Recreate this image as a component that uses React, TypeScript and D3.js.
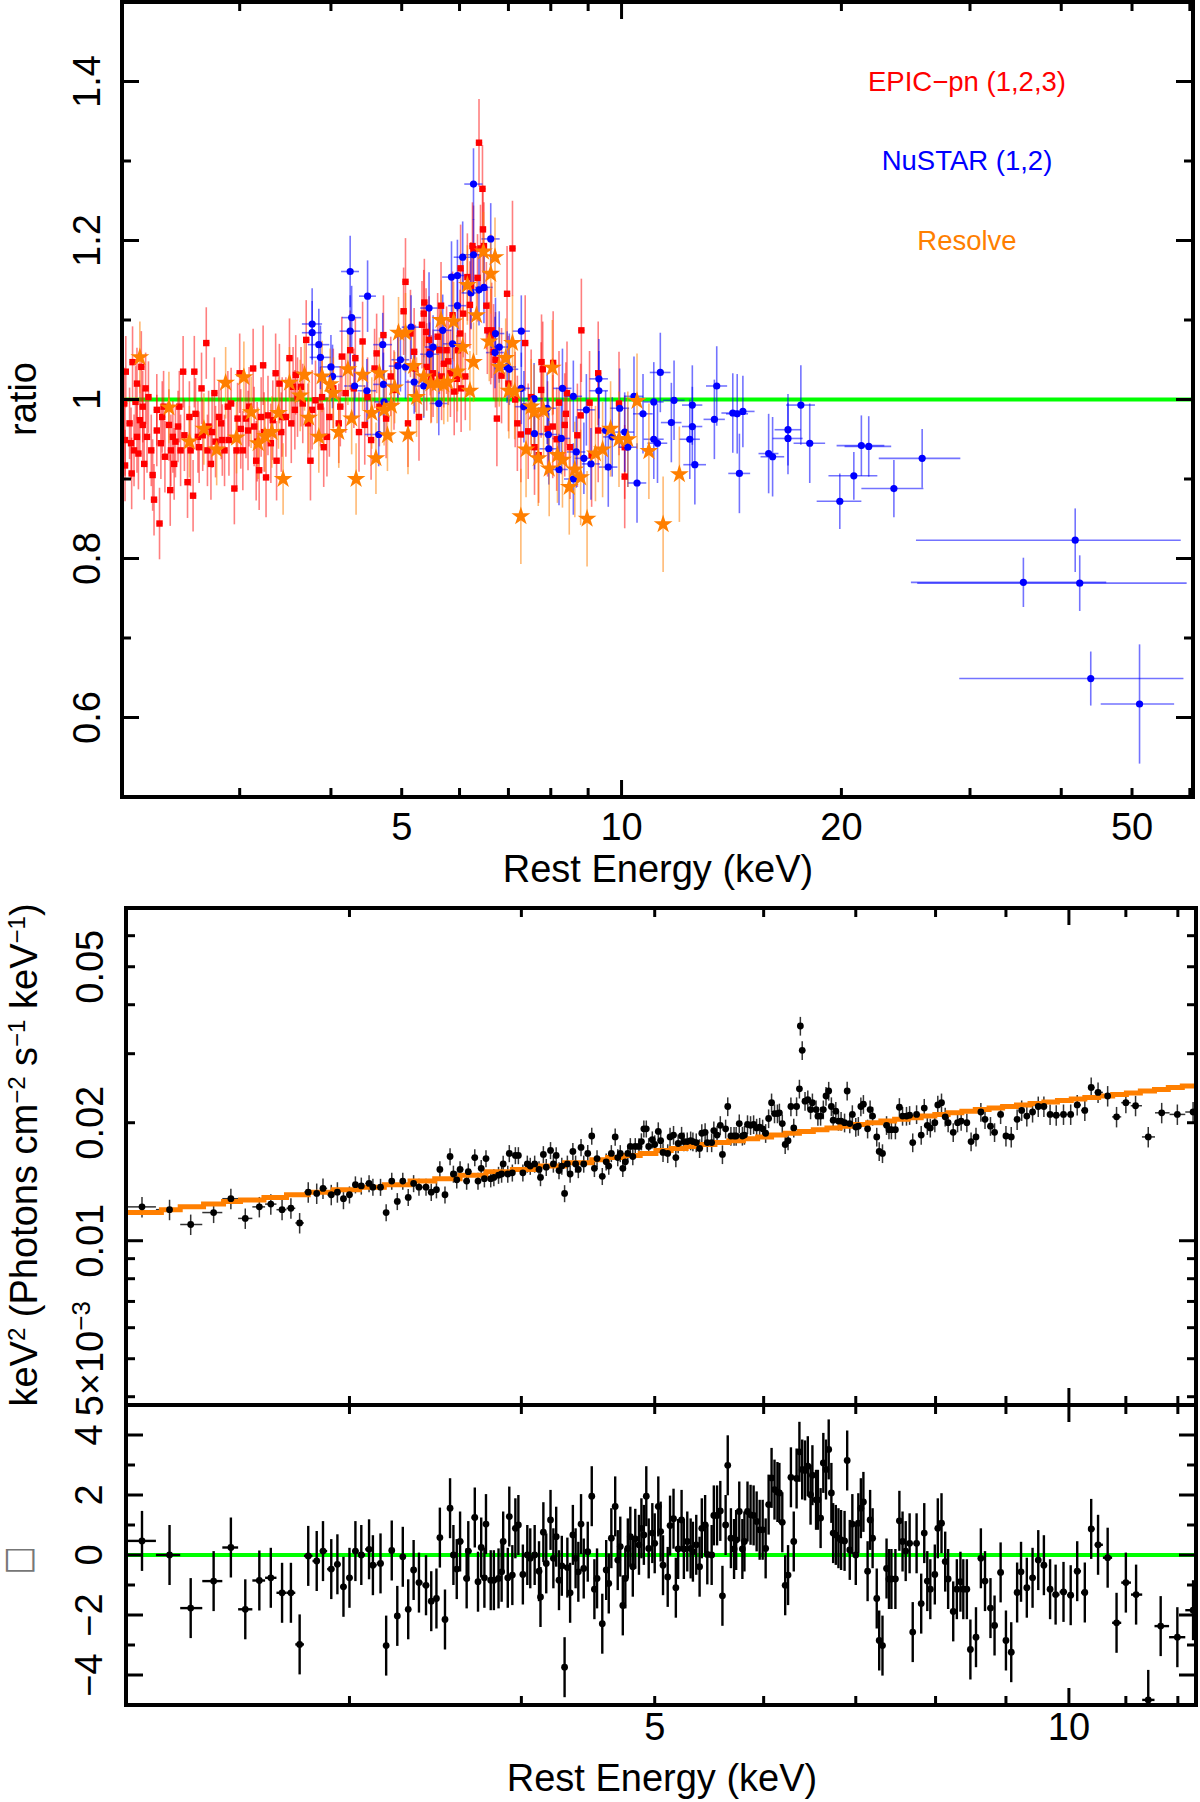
import React from "react";
import * as d3 from "d3";

const W = 1200;
const H = 1802;
const FONT = "'Liberation Sans', Arial, Helvetica, sans-serif";

// ---------- top panel: data / model ratio ----------
// EPIC-pn (1,2,3): [energy keV, ratio]
const epicPn: [number, number][] = [
  [2.085, 0.995], [2.09, 0.949], [2.09, 0.917], [2.095, 1.035], [2.12, 0.97], [2.13, 0.945], [2.134, 0.907],
  [2.14, 1.047], [2.15, 0.936], [2.16, 0.997], [2.17, 1.02], [2.17, 0.953], [2.18, 0.932], [2.19, 0.974],
  [2.2, 1.041], [2.21, 0.968], [2.21, 0.991], [2.22, 0.919], [2.23, 1.014], [2.24, 0.953], [2.25, 1.003],
  [2.27, 0.936], [2.28, 0.905], [2.29, 0.874], [2.31, 0.987], [2.31, 0.961], [2.33, 0.844], [2.34, 0.945],
  [2.35, 0.978], [2.36, 0.991], [2.37, 0.928], [2.4, 0.968], [2.41, 0.886], [2.415, 0.936], [2.43, 0.953],
  [2.44, 0.919], [2.45, 0.947], [2.47, 0.966], [2.48, 0.991], [2.49, 0.936], [2.51, 1.035], [2.52, 0.955],
  [2.545, 0.896], [2.56, 0.978], [2.57, 0.936], [2.59, 0.879], [2.6, 1.035], [2.61, 0.982], [2.63, 0.953],
  [2.64, 0.94], [2.66, 1.014], [2.67, 0.955], [2.7, 1.071], [2.71, 0.936], [2.72, 0.966], [2.74, 0.919],
  [2.75, 0.959], [2.77, 1.008], [2.78, 0.947], [2.81, 0.978], [2.83, 0.97], [2.84, 0.949], [2.86, 0.936],
  [2.89, 0.991], [2.9, 0.949], [2.92, 0.995], [2.95, 0.888], [2.97, 0.936], [2.98, 0.976], [3.0, 1.033],
  [3.01, 0.963], [3.03, 0.936], [3.06, 0.976], [3.08, 0.961], [3.09, 0.991], [3.13, 1.039], [3.14, 0.966],
  [3.16, 0.923], [3.17, 0.947], [3.19, 0.911], [3.21, 0.978], [3.23, 1.043], [3.24, 0.959], [3.26, 0.902],
  [3.28, 0.98], [3.31, 0.945], [3.33, 0.974], [3.36, 1.033], [3.37, 0.923], [3.4, 1.02], [3.42, 0.959],
  [3.43, 0.978], [3.47, 0.978], [3.51, 1.052], [3.53, 0.97], [3.55, 1.016], [3.57, 0.987], [3.58, 1.031],
  [3.6, 1.003], [3.64, 1.016], [3.66, 0.995], [3.7, 1.075], [3.72, 0.97], [3.75, 0.923], [3.77, 0.987],
  [3.81, 0.999], [3.87, 0.991], [3.89, 1.003], [3.91, 0.94], [3.95, 0.953], [3.98, 0.978], [4.03, 1.014],
  [4.1, 0.97], [4.12, 0.991], [4.14, 1.054], [4.19, 1.008], [4.25, 1.062], [4.3, 1.014], [4.32, 1.052],
  [4.37, 0.959], [4.42, 1.073], [4.45, 0.968], [4.49, 1.003], [4.54, 0.949], [4.59, 1.039], [4.62, 1.058],
  [4.66, 0.991], [4.72, 1.081], [4.76, 0.976], [4.83, 1.029], [4.88, 1.012], [4.94, 1.043], [5.03, 1.111],
  [5.06, 1.148], [5.1, 0.97], [5.14, 1.083], [5.2, 1.06], [5.22, 1.039], [5.28, 0.978], [5.33, 1.094],
  [5.36, 1.108], [5.37, 1.122], [5.4, 1.085], [5.41, 1.041], [5.45, 1.075], [5.47, 1.06], [5.49, 1.026],
  [5.52, 1.033], [5.6, 1.079], [5.63, 1.062], [5.66, 1.118], [5.67, 1.029], [5.71, 1.045], [5.76, 1.062],
  [5.79, 1.048], [5.83, 1.033], [5.87, 1.106], [5.9, 1.01], [5.95, 1.026], [5.97, 1.062], [6.01, 1.083],
  [6.02, 1.165], [6.03, 1.014], [6.07, 1.108], [6.11, 1.029], [6.15, 1.154], [6.2, 1.119], [6.22, 1.143],
  [6.25, 1.193], [6.27, 1.189], [6.35, 1.153], [6.38, 1.323], [6.41, 1.19], [6.45, 1.265], [6.46, 1.214],
  [6.48, 1.193], [6.53, 1.118], [6.55, 1.087], [6.62, 1.079], [6.64, 1.087], [6.68, 1.06], [6.72, 1.05],
  [6.75, 0.976], [6.85, 1.03], [6.97, 1.133], [7.0, 1.02], [7.09, 1.19], [7.15, 1.0], [7.2, 0.97],
  [7.28, 0.956], [7.38, 1.071], [7.45, 0.96], [7.52, 1.003], [7.6, 0.94], [7.7, 0.93], [7.76, 1.012],
  [7.77, 1.047], [7.8, 1.038], [7.92, 0.963], [8.05, 0.966], [8.06, 1.046], [8.15, 0.95], [8.21, 0.996],
  [8.36, 0.968], [8.39, 0.982], [8.42, 1.008], [8.5, 0.94], [8.7, 0.955], [8.79, 0.98], [8.81, 1.087],
  [9.04, 0.996], [9.1, 0.93], [9.29, 1.033], [9.29, 0.961], [9.92, 0.995], [10.1, 0.94], [10.1, 0.903],
];
// [upper energy of band, 1-sigma ratio error]
const epicPnErrBands: [number, number][] = [[3.0, 0.045], [5.0, 0.05], [6.6, 0.055], [8.0, 0.06], [99, 0.065]];

// Resolve: [energy keV, ratio]
const resolve: [number, number][] = [
  [2.19, 1.053], [2.4, 0.99], [2.56, 0.947], [2.68, 0.963], [2.79, 0.937], [2.87, 1.021], [2.97, 0.952],
  [3.04, 1.028], [3.11, 0.984], [3.18, 0.945], [3.25, 0.954], [3.32, 0.959], [3.39, 0.983], [3.44, 0.9],
  [3.51, 1.021], [3.63, 1.005], [3.68, 1.031], [3.73, 0.977], [3.85, 0.953], [3.89, 1.029], [3.99, 1.019],
  [4.03, 1.008], [4.1, 0.959], [4.22, 1.038], [4.27, 0.976], [4.33, 0.9], [4.42, 1.031], [4.55, 0.983],
  [4.61, 0.926], [4.66, 1.033], [4.73, 0.987], [4.78, 0.955], [4.84, 0.992], [4.89, 1.015], [4.95, 1.084],
  [5.06, 1.084], [5.1, 0.956], [5.19, 1.042], [5.24, 1.003], [5.36, 1.029], [5.48, 1.02], [5.59, 1.02],
  [5.66, 1.1], [5.71, 1.019], [5.78, 1.022], [5.89, 1.098], [5.96, 1.035], [6.06, 1.066], [6.15, 1.144],
  [6.2, 1.011], [6.27, 1.047], [6.33, 1.106], [6.47, 1.186], [6.59, 1.073], [6.62, 1.158], [6.71, 1.179],
  [6.8, 1.041], [6.94, 1.052], [7.01, 1.011], [7.09, 1.071], [7.14, 1.01], [7.28, 0.853], [7.4, 0.937],
  [7.52, 0.991], [7.59, 0.984], [7.69, 0.926], [7.82, 0.986], [7.96, 0.913], [8.04, 1.04], [8.17, 0.93],
  [8.3, 0.924], [8.48, 0.89], [8.63, 0.912], [8.79, 0.902], [8.97, 0.85], [9.21, 0.932], [9.42, 0.937],
  [9.66, 0.963], [9.92, 0.95], [10.2, 0.95], [10.5, 0.998], [10.9, 0.935], [11.4, 0.843], [12.0, 0.906],
];
const resolveErrBands: [number, number][] = [[5.0, 0.045], [7.0, 0.05], [99, 0.06]];

// NuSTAR (1,2): [energy keV, ratio, ratio error, energy half-width keV]
const nustar: [number, number, number, number][] = [
  [3.77, 1.095, 0.045, 0.12], [3.77, 1.084, 0.04, 0.12], [3.85, 1.069, 0.045, 0.13], [3.87, 1.053, 0.04, 0.13],
  [4.0, 1.041, 0.04, 0.13], [4.02, 1.029, 0.04, 0.13], [4.25, 1.161, 0.045, 0.12], [4.27, 1.103, 0.04, 0.13],
  [4.25, 1.086, 0.045, 0.14], [4.49, 1.13, 0.045, 0.12], [4.31, 1.017, 0.04, 0.14], [4.48, 1.011, 0.04, 0.13],
  [4.71, 1.069, 0.04, 0.14], [4.72, 1.019, 0.04, 0.15], [4.73, 0.997, 0.04, 0.14], [4.65, 0.956, 0.04, 0.2],
  [4.98, 1.05, 0.04, 0.14], [4.94, 1.042, 0.04, 0.14], [5.06, 1.041, 0.04, 0.15], [5.15, 1.091, 0.04, 0.15],
  [5.2, 1.022, 0.04, 0.14], [5.36, 1.017, 0.04, 0.15], [5.45, 1.115, 0.045, 0.15], [5.46, 1.057, 0.04, 0.16],
  [5.52, 1.066, 0.04, 0.15], [5.62, 0.995, 0.04, 0.16], [5.69, 1.087, 0.045, 0.16], [5.87, 1.07, 0.04, 0.17],
  [5.85, 1.154, 0.045, 0.17], [5.96, 1.156, 0.045, 0.17], [5.96, 1.118, 0.04, 0.17], [6.06, 1.179, 0.045, 0.17],
  [6.22, 1.134, 0.045, 0.18], [6.27, 1.182, 0.045, 0.18], [6.27, 1.271, 0.045, 0.18], [6.38, 1.138, 0.045, 0.18],
  [6.48, 1.141, 0.045, 0.18], [6.62, 1.202, 0.045, 0.19], [6.72, 1.083, 0.045, 0.19], [6.71, 1.059, 0.045, 0.19],
  [6.8, 1.066, 0.045, 0.19], [6.97, 1.041, 0.045, 0.2], [7.02, 1.038, 0.045, 0.2], [7.29, 1.086, 0.045, 0.2],
  [7.29, 1.014, 0.045, 0.2], [7.35, 0.991, 0.045, 0.21], [7.59, 1.001, 0.045, 0.21], [7.6, 0.957, 0.045, 0.22],
  [7.91, 0.989, 0.045, 0.22], [7.94, 0.956, 0.045, 0.22], [7.95, 0.938, 0.045, 0.23], [8.21, 0.912, 0.045, 0.23],
  [8.27, 0.951, 0.045, 0.23], [8.3, 1.014, 0.05, 0.24], [8.59, 1.004, 0.045, 0.24], [8.67, 0.934, 0.045, 0.25],
  [8.59, 0.9, 0.045, 0.25], [8.88, 0.926, 0.045, 0.26], [8.95, 0.987, 0.045, 0.26], [9.08, 0.919, 0.045, 0.26],
  [9.31, 1.026, 0.05, 0.27], [9.31, 1.011, 0.05, 0.27], [9.51, 0.961, 0.05, 0.28], [9.59, 0.915, 0.05, 0.28],
  [9.71, 0.953, 0.05, 0.28], [9.94, 0.989, 0.05, 0.3], [10.1, 0.959, 0.05, 0.3], [10.2, 0.94, 0.05, 0.3],
  [10.4, 1.004, 0.05, 0.31], [10.5, 0.895, 0.05, 0.31], [10.7, 0.982, 0.05, 0.33], [11.07, 0.997, 0.05, 0.35],
  [11.07, 0.95, 0.05, 0.35], [11.2, 0.945, 0.05, 0.35], [11.3, 1.034, 0.05, 0.37], [11.7, 0.971, 0.05, 0.38],
  [11.8, 0.999, 0.05, 0.4], [12.4, 0.95, 0.05, 0.4], [12.5, 0.993, 0.05, 0.4], [12.5, 0.966, 0.05, 0.4],
  [12.6, 0.918, 0.05, 0.45], [13.4, 0.975, 0.05, 0.45], [13.5, 1.017, 0.05, 0.45], [14.2, 0.983, 0.05, 0.5],
  [14.4, 0.982, 0.05, 0.5], [14.5, 0.907, 0.05, 0.5], [14.66, 0.985, 0.045, 0.55], [15.9, 0.932, 0.05, 0.5],
  [16.1, 0.928, 0.05, 0.6], [16.9, 0.962, 0.045, 0.7], [16.9, 0.951, 0.045, 0.8], [17.6, 0.993, 0.05, 0.8],
  [18.1, 0.945, 0.05, 0.9], [19.9, 0.872, 0.035, 1.4], [20.8, 0.904, 0.03, 1.6], [21.3, 0.942, 0.038, 1.6],
  [21.8, 0.941, 0.038, 1.6], [23.6, 0.888, 0.036, 2.3], [25.8, 0.926, 0.037, 3.3], [35.5, 0.77, 0.031, 10.6],
  [41.8, 0.823, 0.04, 16.5], [42.4, 0.769, 0.035, 17], [43.9, 0.649, 0.034, 14.9], [51.2, 0.617, 0.075, 5.9],
];

const legendLabels = ["EPIC\u2212pn (1,2,3)", "NuSTAR (1,2)", "Resolve"];
const ratioMajor = [0.6, 0.8, 1, 1.2, 1.4];
const ratioMinor = [0.7, 0.9, 1.1, 1.3];
const topEnergyMajor = [10];
const topEnergyMinor = [3, 4, 5, 6, 7, 8, 9, 20, 30, 40, 50, 60];
const topEnergyLabels = [5, 10, 20, 50];

// ---------- bottom panel: unfolded Resolve spectrum ----------
// [energy keV, keV^2 (Photons cm^-2 s^-1 keV^-1)]
const spectrum: [number, number][] = [
  [2.12, 0.0122], [2.22, 0.012], [2.3, 0.011], [2.39, 0.0118], [2.46, 0.0128], [2.52, 0.0114], [2.58, 0.0122],
  [2.63, 0.0124], [2.68, 0.012], [2.72, 0.0121], [2.76, 0.0111], [2.8, 0.0133], [2.84, 0.0132], [2.87, 0.0136],
  [2.91, 0.0131], [2.94, 0.0133], [2.97, 0.0128], [3.0, 0.0131], [3.03, 0.0139], [3.06, 0.0138], [3.1, 0.014],
  [3.12, 0.0137], [3.16, 0.0137], [3.19, 0.0118], [3.22, 0.0142], [3.25, 0.0126], [3.28, 0.0142], [3.31, 0.0129],
  [3.34, 0.014], [3.37, 0.0137], [3.41, 0.0137], [3.44, 0.0133], [3.47, 0.0135], [3.49, 0.0152], [3.52, 0.0131],
  [3.55, 0.0164], [3.57, 0.0148], [3.59, 0.0143], [3.61, 0.0152], [3.65, 0.0142], [3.66, 0.015], [3.7, 0.0163],
  [3.72, 0.0142], [3.74, 0.0153], [3.76, 0.0144], [3.77, 0.0162], [3.8, 0.0144], [3.82, 0.0145], [3.85, 0.0147],
  [3.87, 0.0148], [3.88, 0.0157], [3.91, 0.0148], [3.92, 0.0167], [3.94, 0.0149], [3.96, 0.0165], [3.98, 0.0165],
  [4.01, 0.0149], [4.04, 0.0157], [4.06, 0.0155], [4.09, 0.0157], [4.12, 0.0152], [4.13, 0.0145], [4.15, 0.0166],
  [4.17, 0.0154], [4.2, 0.017], [4.22, 0.0157], [4.24, 0.0165], [4.26, 0.0151], [4.28, 0.0155], [4.3, 0.0132],
  [4.32, 0.0157], [4.34, 0.0148], [4.36, 0.0169], [4.38, 0.0157], [4.4, 0.0152], [4.42, 0.0173], [4.44, 0.0157],
  [4.47, 0.0167], [4.5, 0.0185], [4.52, 0.0153], [4.54, 0.0162], [4.58, 0.0146], [4.61, 0.0159], [4.63, 0.0155],
  [4.65, 0.0167], [4.68, 0.0184], [4.7, 0.0163], [4.72, 0.0167], [4.74, 0.0153], [4.76, 0.0159], [4.78, 0.0167],
  [4.8, 0.0174], [4.82, 0.0164], [4.84, 0.0174], [4.87, 0.0174], [4.89, 0.0179], [4.91, 0.0193], [4.93, 0.0193],
  [4.95, 0.0174], [4.98, 0.0181], [5.0, 0.0176], [5.03, 0.019], [5.05, 0.018], [5.07, 0.0168], [5.11, 0.0167],
  [5.13, 0.0184], [5.16, 0.0186], [5.18, 0.0163], [5.2, 0.0177], [5.23, 0.0185], [5.25, 0.0179], [5.28, 0.0179],
  [5.31, 0.018], [5.33, 0.0179], [5.36, 0.0178], [5.39, 0.0172], [5.41, 0.0188], [5.44, 0.0189], [5.46, 0.0178],
  [5.5, 0.0178], [5.52, 0.0191], [5.55, 0.0186], [5.58, 0.0197], [5.6, 0.0166], [5.63, 0.0193], [5.65, 0.022],
  [5.68, 0.0185], [5.71, 0.0185], [5.73, 0.0185], [5.76, 0.0199], [5.79, 0.0185], [5.81, 0.0186], [5.84, 0.0198],
  [5.87, 0.0197], [5.9, 0.0198], [5.93, 0.0194], [5.96, 0.0195], [5.99, 0.0193], [6.02, 0.0188], [6.05, 0.0205],
  [6.08, 0.0225], [6.11, 0.0211], [6.14, 0.0211], [6.16, 0.0212], [6.19, 0.0199], [6.22, 0.0176], [6.25, 0.018],
  [6.28, 0.022], [6.31, 0.0194], [6.34, 0.022], [6.37, 0.0244], [6.38, 0.0353], [6.4, 0.0306], [6.43, 0.0227],
  [6.46, 0.0229], [6.49, 0.0216], [6.51, 0.0225], [6.55, 0.0216], [6.57, 0.0208], [6.6, 0.0208], [6.63, 0.0216],
  [6.66, 0.0234], [6.69, 0.0241], [6.72, 0.022], [6.74, 0.0203], [6.77, 0.0214], [6.8, 0.0202], [6.83, 0.0202],
  [6.87, 0.02], [6.9, 0.0241], [6.93, 0.0199], [6.96, 0.021], [7.0, 0.0195], [7.03, 0.0196], [7.06, 0.022],
  [7.09, 0.0223], [7.14, 0.0193], [7.17, 0.0216], [7.2, 0.0208], [7.25, 0.0184], [7.28, 0.0169], [7.32, 0.0167],
  [7.37, 0.0197], [7.4, 0.0192], [7.43, 0.0192], [7.48, 0.0192], [7.53, 0.0219], [7.57, 0.0208], [7.62, 0.0208],
  [7.66, 0.0209], [7.7, 0.0178], [7.75, 0.021], [7.81, 0.0186], [7.85, 0.0218], [7.89, 0.0197], [7.93, 0.0194],
  [7.99, 0.02], [8.03, 0.0222], [8.08, 0.0225], [8.13, 0.0207], [8.17, 0.02], [8.24, 0.0189], [8.3, 0.02],
  [8.35, 0.0202], [8.43, 0.02], [8.49, 0.0179], [8.56, 0.0184], [8.63, 0.0213], [8.69, 0.0204], [8.77, 0.0196],
  [8.83, 0.0189], [8.92, 0.021], [9.0, 0.0185], [9.08, 0.0184], [9.17, 0.0204], [9.24, 0.0215], [9.32, 0.0208],
  [9.41, 0.0213], [9.5, 0.022], [9.59, 0.022], [9.69, 0.021], [9.79, 0.0209], [9.91, 0.021], [10.03, 0.021],
  [10.14, 0.0222], [10.27, 0.0215], [10.38, 0.0246], [10.5, 0.0239], [10.67, 0.0234], [10.83, 0.0207],
  [11.0, 0.0225], [11.18, 0.0221], [11.42, 0.0184], [11.68, 0.0212], [11.99, 0.021], [12.31, 0.0213],
];
// fractional flux error per energy band
const spectrumErrBands: [number, number][] = [[3.0, 0.06], [5.0, 0.05], [9.0, 0.055], [99, 0.06]];

// model: [bin start keV, keV^2 flux]
const model: [number, number][] = [
  [2.064, 0.0118], [2.19, 0.012], [2.26, 0.0122], [2.35, 0.0124], [2.43, 0.0126], [2.5, 0.0127], [2.6, 0.0129],
  [2.7, 0.0131], [2.8, 0.0133], [2.92, 0.0135], [3.05, 0.0137], [3.18, 0.0139], [3.32, 0.0142], [3.46, 0.0144],
  [3.61, 0.0147], [3.77, 0.015], [3.94, 0.0152], [4.12, 0.0155], [4.3, 0.0158], [4.5, 0.0161], [4.62, 0.0163],
  [4.75, 0.0165], [4.88, 0.0167], [5.01, 0.017], [5.14, 0.0172], [5.27, 0.0174], [5.4, 0.0176], [5.53, 0.0178],
  [5.66, 0.018], [5.8, 0.0182], [5.94, 0.0184], [6.08, 0.0186], [6.22, 0.0188], [6.37, 0.019], [6.52, 0.0192],
  [6.67, 0.0194], [6.82, 0.0196], [6.98, 0.0198], [7.14, 0.02], [7.3, 0.0202], [7.47, 0.0204], [7.64, 0.0206],
  [7.81, 0.0208], [7.99, 0.021], [8.17, 0.0212], [8.36, 0.0214], [8.55, 0.0216], [8.75, 0.0218], [8.95, 0.022],
  [9.16, 0.0222], [9.37, 0.0224], [9.59, 0.0226], [9.81, 0.0228], [10.04, 0.023], [10.27, 0.0232],
  [10.51, 0.0234], [10.76, 0.0236], [11.01, 0.0238], [11.27, 0.0241], [11.54, 0.0243], [11.81, 0.0246],
  [12.09, 0.0248], [12.37, 0.0251],
];

// residuals: [energy keV, (data - model)/error]
const residuals: [number, number][] = [
  [2.12, 0.47], [2.22, 0], [2.3, -1.77], [2.39, -0.87], [2.46, 0.25], [2.52, -1.81], [2.58, -0.85], [2.63, -0.76],
  [2.68, -1.26], [2.72, -1.26], [2.76, -2.98], [2.8, -0.03], [2.84, -0.2], [2.87, 0.13], [2.91, -0.47], [2.94, -0.31],
  [2.97, -1.06], [3.0, -0.76], [3.03, 0.13], [3.06, 0], [3.1, 0.19], [3.12, -0.34], [3.16, -0.28], [3.19, -3.02],
  [3.22, 0.15], [3.25, -2.03], [3.28, -0.06], [3.31, -1.81], [3.34, -0.5], [3.37, -0.92], [3.41, -1.01], [3.44, -1.54],
  [3.47, -1.45], [3.49, 0.58], [3.52, -2.15], [3.55, 1.56], [3.57, 0], [3.59, -0.47], [3.61, 0.45], [3.65, -0.78],
  [3.66, 0.13], [3.7, 1.25], [3.72, -0.89], [3.74, 0.25], [3.76, -0.76], [3.77, 1.03], [3.8, -0.84], [3.82, -0.84],
  [3.85, -0.78], [3.87, -0.56], [3.88, 0.45], [3.91, -0.76], [3.92, 1.28], [3.94, -0.67], [3.96, 0.89], [3.98, 1.0],
  [4.01, -0.65], [4.04, 0], [4.06, -0.11], [4.09, 0], [4.12, -0.54], [4.13, -1.4], [4.15, 0.76], [4.17, -0.28],
  [4.2, 1.17], [4.22, -0.11], [4.24, 0.61], [4.26, -0.84], [4.28, -0.36], [4.3, -3.74], [4.32, -0.42], [4.34, -1.26],
  [4.36, 0.67], [4.38, -0.11], [4.4, -0.56], [4.42, 1.03], [4.44, -0.45], [4.47, 0.11], [4.5, 1.96], [4.52, -1.14],
  [4.54, -0.78], [4.58, -2.29], [4.61, -0.5], [4.63, -0.95], [4.65, 0.56], [4.68, 1.62], [4.7, -0.17], [4.72, 0.28],
  [4.74, -1.68], [4.76, -0.78], [4.78, 0.22], [4.8, 0.61], [4.82, -0.39], [4.84, 0.54], [4.87, 0.34], [4.89, 0.89],
  [4.91, 0.67], [4.93, 1.96], [4.95, 0.22], [4.98, 0.73], [5.0, 0.39], [5.03, 1.62], [5.05, 0.78], [5.07, -0.34],
  [5.11, -0.73], [5.13, 0.98], [5.16, 1.21], [5.18, -1.09], [5.2, 0.2], [5.23, 1.17], [5.25, 0.2], [5.28, 0.45],
  [5.31, 0.22], [5.33, 0.11], [5.36, 0.34], [5.39, -0.39], [5.41, 0.89], [5.44, 1.0], [5.46, 0.02], [5.5, 0],
  [5.52, 1.32], [5.55, 1.32], [5.58, 1.47], [5.6, -1.36], [5.63, 1.0], [5.65, 2.99], [5.68, 0.56], [5.71, 0.2],
  [5.73, 0.5], [5.76, 1.45], [5.79, 0.2], [5.81, 0.45], [5.84, 1.45], [5.87, 1.34], [5.9, 1.32], [5.93, 1.12],
  [5.96, 0.84], [5.99, 0.84], [6.02, 0.22], [6.05, 1.68], [6.08, 2.57], [6.11, 2.18], [6.14, 2.1], [6.16, 2.07],
  [6.19, 1.09], [6.22, -1.01], [6.25, -0.67], [6.28, 2.59], [6.31, 0.45], [6.34, 2.55], [6.37, 3.44], [6.4, 2.85],
  [6.43, 2.82], [6.46, 2.96], [6.49, 2.01], [6.51, 2.66], [6.55, 1.84], [6.57, 1.84], [6.6, 1.23], [6.63, 3.07],
  [6.66, 2.85], [6.69, 3.52], [6.72, 2.07], [6.74, 0.73], [6.77, 0.67], [6.8, 0.56], [6.83, 0.5], [6.87, 0.47],
  [6.9, 3.15], [6.93, 0.17], [6.96, 1.03], [7.0, 0], [7.03, 1.06], [7.06, 1.56], [7.09, 1.77], [7.14, -0.54],
  [7.17, 1.17], [7.2, 0.56], [7.25, -1.45], [7.28, -2.85], [7.32, -3.02], [7.37, -0.45], [7.4, -0.8], [7.43, -0.8],
  [7.48, -0.8], [7.53, 1.14], [7.57, 0.45], [7.61, 0.13], [7.66, 0.39], [7.7, -2.57], [7.75, 0.39], [7.81, -1.62],
  [7.85, 0.73], [7.89, -0.87], [7.93, -1.14], [7.99, -0.65], [8.03, 0.89], [8.08, 1.06], [8.13, -0.22], [8.17, -0.8],
  [8.24, -1.88], [8.29, -1.14], [8.34, -0.89], [8.38, -1.14], [8.43, -1.14], [8.48, -3.15], [8.56, -2.74],
  [8.63, -0.11], [8.69, -0.87], [8.77, -1.77], [8.83, -2.35], [8.92, -0.58], [9.0, -2.85], [9.08, -3.24],
  [9.17, -1.25], [9.23, -0.56], [9.32, -1.09], [9.41, -0.76], [9.5, -0.17], [9.59, -0.34], [9.69, -1.14],
  [9.78, -1.32], [9.91, -1.23], [10.03, -1.34], [10.14, -0.54], [10.27, -1.25], [10.38, 0.87], [10.5, 0.34],
  [10.67, -0.09], [10.83, -2.26], [11.0, -0.92], [11.19, -1.32], [11.42, -4.83], [11.66, -2.37], [11.99, -2.74],
  [12.31, -1.84],
];

const fluxMajor = [0.01];
const fluxMinor = [0.004, 0.005, 0.006, 0.007, 0.008, 0.009, 0.02, 0.03, 0.04, 0.05, 0.06];
const fluxLabels = [0.05, 0.02, 0.01, 0.005];
const residMajor = [-4, -2, 0, 2, 4];
const residMinor = [-3, -1, 1, 3];
const botEnergyMajor = [10];
const botEnergyMinor = [3, 4, 5, 6, 7, 8, 9, 11, 12];
const botEnergyLabels = [5, 10];

// ---------- scales ----------
const xTop = d3.scaleLog().domain([2.07, 60.6]).range([122, 1193]);
const yTop = d3.scaleLinear().domain([0.5, 1.5]).range([797, 2]);
const xBot = d3.scaleLog().domain([2.064, 12.37]).range([126, 1196]);
const yFlux = d3.scaleLog().domain([0.00381, 0.0706]).range([1405, 908]);
const yRes = d3.scaleLinear().domain([-5, 5]).range([1705, 1405]);

const bandValue = (bands: [number, number][], e: number) => (bands.find((b) => e < b[0]) || bands[bands.length - 1])[1];

// contiguous bins: edges halfway between neighbouring channels
function binEdges(es: number[]): [number, number][] {
  return es.map((e, i) => {
    const lo = i > 0 ? (es[i - 1] + e) / 2 : e - (es[i + 1] - e) / 2;
    const hi = i < es.length - 1 ? (e + es[i + 1]) / 2 : e + (e - es[i - 1]) / 2;
    return [lo, hi];
  });
}

type Scale = (v: number) => number;

function Frame({ xs, ys, x0, x1, y0, y1, xMaj, xMin, yMaj, yMin }: {
  xs: Scale; ys: Scale; x0: number; x1: number; y0: number; y1: number;
  xMaj: number[]; xMin: number[]; yMaj: number[]; yMin: number[];
}) {
  const segs: number[][] = [];
  const add = (vals: number[], len: number, horiz: boolean) => {
    vals.forEach((v) => {
      if (horiz) {
        const x = xs(v);
        segs.push([x, y1, x, y1 - len], [x, y0, x, y0 + len]);
      } else {
        const y = ys(v);
        segs.push([x0, y, x0 + len, y], [x1, y, x1 - len, y]);
      }
    });
  };
  add(xMaj, 17, true);
  add(xMin, 9, true);
  add(yMaj, 17, false);
  add(yMin, 9, false);
  return (
    <g stroke="#000" fill="none">
      {segs.map((s, i) => (
        <line key={i} x1={s[0]} y1={s[1]} x2={s[2]} y2={s[3]} strokeWidth={3} />
      ))}
      <rect x={x0} y={y0} width={x1 - x0} height={y1 - y0} strokeWidth={4} />
    </g>
  );
}

function RotLabel({ x, y, size, children, fill = "#000" }: { x: number; y: number; size: number; children: React.ReactNode; fill?: string }) {
  return (
    <text transform={`translate(${x},${y}) rotate(-90)`} textAnchor="middle" fontSize={size} fill={fill}>
      {children}
    </text>
  );
}

export default function App() {
  const star = d3.symbol().type(d3.symbolStar).size(110)() as string;

  const specSorted = [...spectrum].sort((a, b) => a[0] - b[0]);
  const specBins = binEdges(specSorted.map((d) => d[0]));
  const resSorted = [...residuals].sort((a, b) => a[0] - b[0]);
  const resBins = binEdges(resSorted.map((d) => d[0]));

  const modelPath = d3
    .line<[number, number]>()
    .x((d) => xBot(d[0]))
    .y((d) => yFlux(d[1]))
    .curve(d3.curveStepAfter)(model) as string;

  const fmtRatio = (v: number) => (v === 1 ? "1" : String(v));
  const legendColors = ["#ff0000", "#0000ff", "#ff7f00"];
  const legendRatios = [1.4, 1.3, 1.2];

  return (
    <svg
      width={W}
      height={H}
      viewBox={`0 0 ${W} ${H}`}
      style={{ position: "absolute", left: 0, top: 0, background: "#fff" }}
      fontFamily={FONT}
    >
      <defs>
        <clipPath id="clipTop"><rect x={122} y={2} width={1071} height={795} /></clipPath>
        <clipPath id="clipFlux"><rect x={126} y={908} width={1070} height={497} /></clipPath>
        <clipPath id="clipRes"><rect x={126} y={1405} width={1070} height={300} /></clipPath>
      </defs>
      <rect width={W} height={H} fill="#fff" />

      {/* ===== top panel ===== */}
      <g clipPath="url(#clipTop)">
        <line x1={xTop(2.07)} x2={xTop(60.6)} y1={yTop(1)} y2={yTop(1)} stroke="#00ff00" strokeWidth={4} />
        {/* error bars */}
        <g stroke="#ff0000" strokeOpacity={0.5} strokeWidth={1.6}>
          {epicPn.map(([e, r], i) => {
            const err = bandValue(epicPnErrBands, e);
            return (
              <g key={i}>
                <line x1={xTop(e)} x2={xTop(e)} y1={yTop(r - err)} y2={yTop(r + err)} />
                <line x1={xTop(e * 0.99)} x2={xTop(e * 1.01)} y1={yTop(r)} y2={yTop(r)} />
              </g>
            );
          })}
        </g>
        <g stroke="#0000ff" strokeOpacity={0.55} strokeWidth={1.6}>
          {nustar.map(([e, r, err, de], i) => (
            <g key={i}>
              <line x1={xTop(e)} x2={xTop(e)} y1={yTop(r - err)} y2={yTop(r + err)} />
              <line x1={xTop(e - de)} x2={xTop(e + de)} y1={yTop(r)} y2={yTop(r)} />
            </g>
          ))}
        </g>
        <g stroke="#ff7f00" strokeOpacity={0.55} strokeWidth={1.6}>
          {resolve.map(([e, r], i) => {
            const err = bandValue(resolveErrBands, e);
            return (
              <g key={i}>
                <line x1={xTop(e)} x2={xTop(e)} y1={yTop(r - err)} y2={yTop(r + err)} />
                <line x1={xTop(e * 0.99)} x2={xTop(e * 1.01)} y1={yTop(r)} y2={yTop(r)} />
              </g>
            );
          })}
        </g>
        {/* markers */}
        <g fill="#ff0000">
          {epicPn.map(([e, r], i) => (
            <rect key={i} x={xTop(e) - 3.2} y={yTop(r) - 3.2} width={6.4} height={6.4} />
          ))}
        </g>
        <g fill="#0000ff">
          {nustar.map(([e, r], i) => (
            <circle key={i} cx={xTop(e)} cy={yTop(r)} r={3.6} />
          ))}
        </g>
        <g fill="#ff7f00">
          {resolve.map(([e, r], i) => (
            <path key={i} d={star} transform={`translate(${xTop(e)},${yTop(r)})`} />
          ))}
        </g>
      </g>
      <Frame xs={xTop} ys={yTop} x0={122} x1={1193} y0={2} y1={797}
        xMaj={topEnergyMajor} xMin={topEnergyMinor} yMaj={ratioMajor} yMin={ratioMinor} />
      {ratioMajor.map((v) => (
        <RotLabel key={v} x={100} y={yTop(v)} size={38}>{fmtRatio(v)}</RotLabel>
      ))}
      {topEnergyLabels.map((v) => (
        <text key={v} x={xTop(v)} y={840} textAnchor="middle" fontSize={38}>{v}</text>
      ))}
      <text x={658} y={882} textAnchor="middle" fontSize={38}>Rest Energy (keV)</text>
      <RotLabel x={36} y={399} size={38}>ratio</RotLabel>
      {legendLabels.map((t, i) => (
        <text key={t} x={967} y={yTop(legendRatios[i]) + 9} textAnchor="middle" fontSize={27.5} fill={legendColors[i]}>{t}</text>
      ))}

      {/* ===== bottom panel: spectrum ===== */}
      <g clipPath="url(#clipFlux)">
        <g stroke="#333" strokeWidth={1.5}>
          {specSorted.map(([e, f], i) => {
            const fe = bandValue(spectrumErrBands, e);
            return (
              <g key={i}>
                <line x1={xBot(e)} x2={xBot(e)} y1={yFlux(f * (1 - fe))} y2={yFlux(f * (1 + fe))} />
                <line x1={xBot(specBins[i][0])} x2={xBot(specBins[i][1])} y1={yFlux(f)} y2={yFlux(f)} />
              </g>
            );
          })}
        </g>
        <path d={modelPath} fill="none" stroke="#ff7f00" strokeWidth={5} />
        <g fill="#000">
          {specSorted.map(([e, f], i) => (
            <circle key={i} cx={xBot(e)} cy={yFlux(f)} r={3.4} />
          ))}
        </g>
      </g>
      <Frame xs={xBot} ys={yFlux} x0={126} x1={1196} y0={908} y1={1405}
        xMaj={botEnergyMajor} xMin={botEnergyMinor} yMaj={fluxMajor} yMin={fluxMinor} />
      {fluxLabels.map((v) => (
        <RotLabel key={v} x={103} y={yFlux(v)} size={38}>
          {v === 0.005 ? (
            <>
              {"5\u00d710"}
              <tspan dy={-13} fontSize={26}>{"\u22123"}</tspan>
            </>
          ) : (
            String(v)
          )}
        </RotLabel>
      ))}
      <RotLabel x={37} y={1155} size={38}>
        keV<tspan dy={-12} fontSize={24}>2</tspan>
        <tspan dy={12}> (Photons cm</tspan>
        <tspan dy={-12} fontSize={24}>{"\u22122"}</tspan>
        <tspan dy={12}> s</tspan>
        <tspan dy={-12} fontSize={24}>{"\u22121"}</tspan>
        <tspan dy={12}> keV</tspan>
        <tspan dy={-12} fontSize={24}>{"\u22121"}</tspan>
        <tspan dy={12}>)</tspan>
      </RotLabel>

      {/* ===== bottom panel: residuals ===== */}
      <g clipPath="url(#clipRes)">
        <line x1={xBot(2.064)} x2={xBot(12.37)} y1={yRes(0)} y2={yRes(0)} stroke="#00ff00" strokeWidth={4} />
        <g stroke="#000" strokeWidth={2.4}>
          {resSorted.map(([e, r], i) => (
            <g key={i}>
              <line x1={xBot(e)} x2={xBot(e)} y1={yRes(r - 1)} y2={yRes(r + 1)} />
              <line x1={xBot(resBins[i][0])} x2={xBot(resBins[i][1])} y1={yRes(r)} y2={yRes(r)} />
            </g>
          ))}
        </g>
        <g fill="#000">
          {resSorted.map(([e, r], i) => (
            <circle key={i} cx={xBot(e)} cy={yRes(r)} r={3.4} />
          ))}
        </g>
      </g>
      <Frame xs={xBot} ys={yRes} x0={126} x1={1196} y0={1405} y1={1705}
        xMaj={botEnergyMajor} xMin={botEnergyMinor} yMaj={residMajor} yMin={residMinor} />
      {residMajor.map((v) => (
        <RotLabel key={v} x={102} y={yRes(v)} size={38}>{v < 0 ? `\u2212${-v}` : String(v)}</RotLabel>
      ))}
      {botEnergyLabels.map((v) => (
        <text key={v} x={xBot(v)} y={1740} textAnchor="middle" fontSize={38}>{v}</text>
      ))}
      <text x={662} y={1791} textAnchor="middle" fontSize={38}>Rest Energy (keV)</text>
      <text
        transform="translate(20,1557) scale(1.25,1)"
        textAnchor="middle"
        dominantBaseline="central"
        fontFamily="'DejaVu Sans', sans-serif"
        fontSize={30}
        fill="#777"
      >
        {"\u25a1"}
      </text>
    </svg>
  );
}
